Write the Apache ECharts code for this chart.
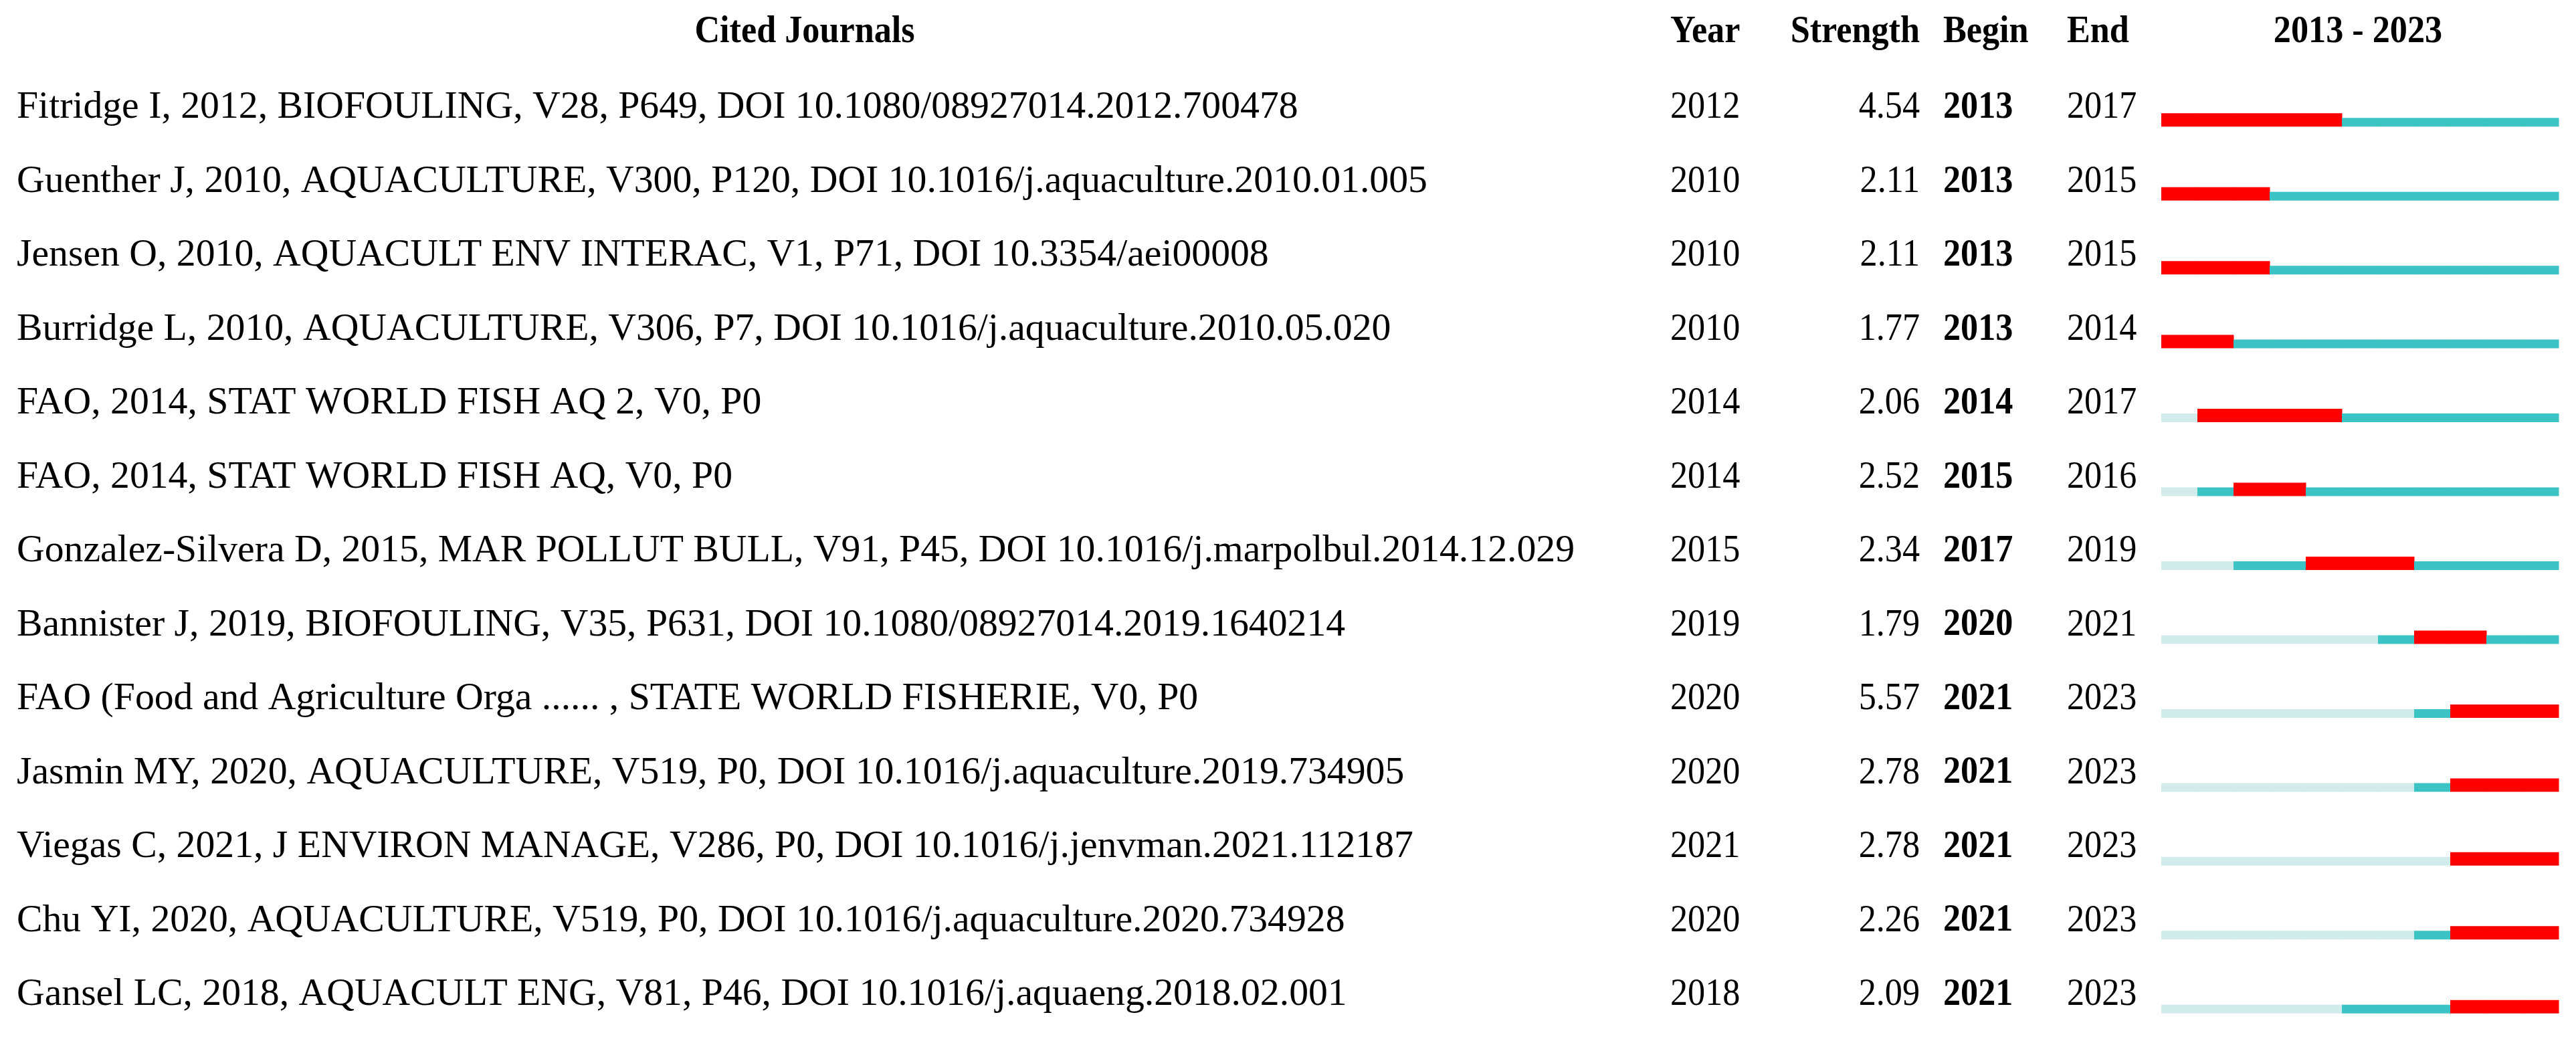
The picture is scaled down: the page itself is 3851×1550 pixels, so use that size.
<!DOCTYPE html>
<html><head><meta charset="utf-8">
<script src="https://cdn.jsdelivr.net/npm/echarts@6/dist/echarts.min.js"></script>
<style>html,body{margin:0;padding:0;background:#fff}#c{width:3851px;height:1550px}</style>
</head><body><div id="c"></div>
<script>
const refs = [
 "Fitridge I, 2012, BIOFOULING, V28, P649, DOI 10.1080/08927014.2012.700478",
 "Guenther J, 2010, AQUACULTURE, V300, P120, DOI 10.1016/j.aquaculture.2010.01.005",
 "Jensen O, 2010, AQUACULT ENV INTERAC, V1, P71, DOI 10.3354/aei00008",
 "Burridge L, 2010, AQUACULTURE, V306, P7, DOI 10.1016/j.aquaculture.2010.05.020",
 "FAO, 2014, STAT WORLD FISH AQ 2, V0, P0",
 "FAO, 2014, STAT WORLD FISH AQ, V0, P0",
 "Gonzalez-Silvera D, 2015, MAR POLLUT BULL, V91, P45, DOI 10.1016/j.marpolbul.2014.12.029",
 "Bannister J, 2019, BIOFOULING, V35, P631, DOI 10.1080/08927014.2019.1640214",
 "FAO (Food and Agriculture Orga ...... , STATE WORLD FISHERIE, V0, P0",
 "Jasmin MY, 2020, AQUACULTURE, V519, P0, DOI 10.1016/j.aquaculture.2019.734905",
 "Viegas C, 2021, J ENVIRON MANAGE, V286, P0, DOI 10.1016/j.jenvman.2021.112187",
 "Chu YI, 2020, AQUACULTURE, V519, P0, DOI 10.1016/j.aquaculture.2020.734928",
 "Gansel LC, 2018, AQUACULT ENG, V81, P46, DOI 10.1016/j.aquaeng.2018.02.001"
];
const years =     [2012,2010,2010,2010,2014,2014,2015,2019,2020,2020,2021,2020,2018];
const strengths = [4.54,2.11,2.11,1.77,2.06,2.52,2.34,1.79,5.57,2.78,2.78,2.26,2.09];
const begins =    [2013,2013,2013,2013,2014,2015,2017,2020,2021,2021,2021,2021,2021];
const ends =      [2017,2015,2015,2014,2017,2016,2019,2021,2023,2023,2023,2023,2023];
const startYear = 2013, endYear = 2023;

const FONT = '"Liberation Serif","Times New Roman",serif';
const FS = 58, SX = 0.9;

const barData = refs.map((r,i)=>[i, years[i], begins[i], ends[i]]);

function txt(x, y, s, align, bold, sx){
  return {type:'text', x:x, y:y, scaleX:sx||SX, style:{text:s, x:0, y:0, fill:'#000', font:(bold?'bold ':'')+FS+'px '+FONT, align:align, verticalAlign:'middle'}};
}

const chart = echarts.init(document.getElementById('c'));
chart.setOption({
  animation:false,
  backgroundColor:'#fff',
  grid:{left:3231, right:26, top:110, bottom:4},
  xAxis:{type:'value', min:startYear, max:endYear+1, show:false},
  yAxis:{type:'category', data:refs, inverse:true, show:false},
  graphic:[
    txt(1203, 48, 'Cited Journals', 'center', true),
    txt(2497, 48, 'Year', 'left', true),
    txt(2870, 48, 'Strength', 'right', true),
    txt(2905, 48, 'Begin', 'left', true),
    txt(3090, 48, 'End', 'left', true),
    txt(3525, 48, '2013 - 2023', 'center', true)
  ],
  series:[{
    type:'custom',
    data:barData,
    encode:{x:1, y:0},
    renderItem:function(params, api){
      const row = api.value(0), py = api.value(1), b = api.value(2), e = api.value(3);
      const cy = api.coord([startYear, row])[1];
      const children = [];
      const base = cy + 24;
      for(let yr=startYear; yr<=endYear; yr++){
        const x0 = api.coord([yr, row])[0], x1 = api.coord([yr+1, row])[0];
        let color, h;
        if(yr>=b && yr<=e){color='#ff0000'; h=20;}
        else if(yr>=py){color='#3cc3c3'; h=13;}
        else {color='#d2ecec'; h=13;}
        children.push({type:'rect', shape:{x:x0, y:base-h, width:x1-x0+0.5, height:h}, style:{fill:color}});
      }
      const ty = cy - 4;
      children.push(txt(25, ty, refs[row], 'left', false, 0.995));
      children.push(txt(2497, ty, String(years[row]), 'left', false));
      children.push(txt(2870, ty, strengths[row].toFixed(2), 'right', false));
      children.push(txt(2905, ty, String(begins[row]), 'left', true));
      children.push(txt(3090, ty, String(ends[row]), 'left', false));
      return {type:'group', children:children};
    }
  }]
});
</script></body></html>
